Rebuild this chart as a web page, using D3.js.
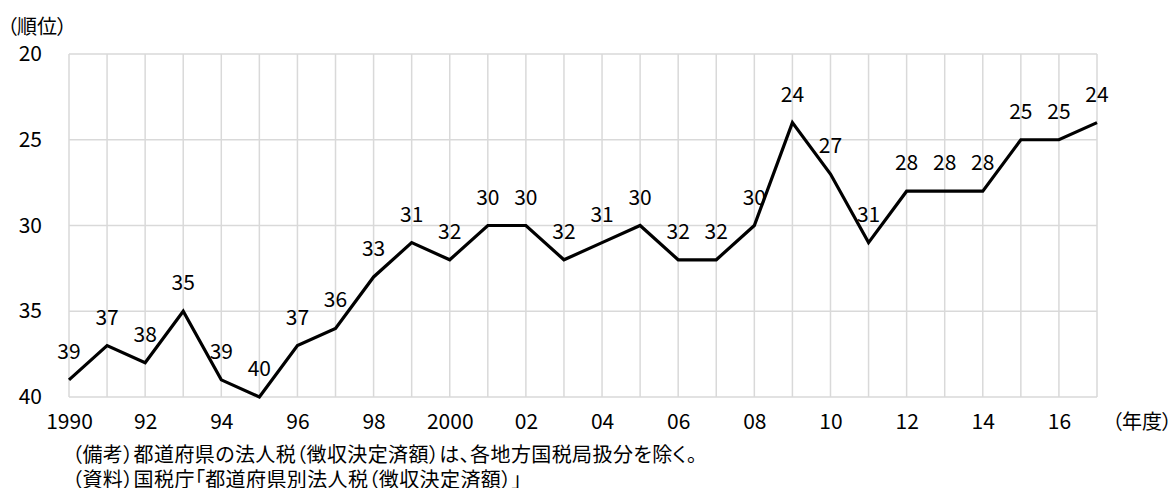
<!DOCTYPE html>
<html>
<head>
<meta charset="utf-8">
<script src="https://cdn.jsdelivr.net/npm/d3@7"></script>
<style>
  body { margin: 0; background: #fff; }
  svg text {
    font-family: "Noto Sans CJK JP", "Noto Sans", sans-serif;
    font-feature-settings: "palt";
    fill: #000;
  }
  svg text.num {
    font-family: "Liberation Sans Narrow", "Noto Sans CJK JP", sans-serif;
    font-size: 21px;
  }
</style>
</head>
<body>
<div id="container"></div>
<script>
// data
const years = d3.range(1990, 2018);
const ranks = [39, 37, 38, 35, 39, 40, 37, 36, 33, 31, 32, 30, 30, 32, 31, 30, 32, 32, 30, 24, 27, 31, 28, 28, 28, 25, 25, 24];
const xTickYears = [1990, 1992, 1994, 1996, 1998, 2000, 2002, 2004, 2006, 2008, 2010, 2012, 2014, 2016];
const xTickLabels = ['1990', '92', '94', '96', '98', '2000', '02', '04', '06', '08', '10', '12', '14', '16'];
const yTicks = [20, 25, 30, 35, 40];
const notes = [
  '（備考）都道府県の法人税（徴収決定済額）は、各地方国税局扱分を除く。',
  '（資料）国税庁「都道府県別法人税（徴収決定済額）」'
];

const svgWidth = 1174,
  svgHeight = 488,
  plotLeft = 69,
  plotRight = 1097,
  plotTop = 54,
  plotBottom = 397,
  fontSize = '20px';

const svg = d3
  .select('#container')
  .append('svg')
  .attr('width', svgWidth)
  .attr('height', svgHeight);

const xScale = d3.scaleLinear().domain([1990, 2017]).range([plotLeft, plotRight]);
const yScale = d3.scaleLinear().domain([20, 40]).range([plotTop, plotBottom]);

// grid
svg
  .append('g')
  .selectAll('line')
  .data(years)
  .enter()
  .append('line')
  .attr('x1', (d) => xScale(d))
  .attr('x2', (d) => xScale(d))
  .attr('y1', plotTop)
  .attr('y2', plotBottom)
  .attr('stroke', '#d9d9d9')
  .attr('stroke-width', 1.5);

svg
  .append('g')
  .selectAll('line')
  .data(yTicks)
  .enter()
  .append('line')
  .attr('x1', plotLeft)
  .attr('x2', plotRight)
  .attr('y1', (d) => yScale(d))
  .attr('y2', (d) => yScale(d))
  .attr('stroke', '#d9d9d9')
  .attr('stroke-width', 1.5);

// axes labels
const yAxis = d3.axisLeft(yScale).tickValues(yTicks).tickSize(0).tickPadding(27);
svg
  .append('g')
  .attr('transform', `translate(${plotLeft},0)`)
  .call(yAxis)
  .call((g) => g.select('.domain').remove())
  .call((g) => g.attr('font-family', null).attr('font-size', null))
  .selectAll('text')
  .attr('class', 'num')
  .attr('fill', '#000');

const xAxis = d3
  .axisBottom(xScale)
  .tickValues(xTickYears)
  .tickFormat((d, i) => xTickLabels[i])
  .tickSize(0)
  .tickPadding(17);
svg
  .append('g')
  .attr('transform', `translate(0,${plotBottom})`)
  .call(xAxis)
  .call((g) => g.select('.domain').remove())
  .call((g) => g.attr('font-family', null).attr('font-size', null))
  .selectAll('text')
  .attr('class', 'num')
  .attr('fill', '#000');

// line
const line = d3
  .line()
  .x((d, i) => xScale(years[i]))
  .y((d) => yScale(d));

svg
  .append('path')
  .datum(ranks)
  .attr('d', line)
  .attr('fill', 'none')
  .attr('stroke', '#000')
  .attr('stroke-width', 3.2)
  .attr('stroke-linejoin', 'miter');

// data labels
svg
  .append('g')
  .selectAll('text')
  .data(ranks)
  .enter()
  .append('text')
  .attr('class', 'num')
  .attr('x', (d, i) => xScale(years[i]))
  .attr('y', (d) => yScale(d) - 21)
  .attr('text-anchor', 'middle')
  .text((d) => d);

// units
svg
  .append('text')
  .attr('x', 7)
  .attr('y', 34)
  .style('font-size', fontSize)
  .text('（順位）');

svg
  .append('text')
  .attr('x', 1112)
  .attr('y', 429)
  .style('font-size', fontSize)
  .text('（年度）');

svg
  .append('g')
  .selectAll('text')
  .data(notes)
  .enter()
  .append('text')
  .attr('x', 72)
  .attr('y', (d, i) => 462 + i * 25)
  .style('font-size', fontSize)
  .style('letter-spacing', '0.4px')
  .text((d) => d);
</script>
</body>
</html>
